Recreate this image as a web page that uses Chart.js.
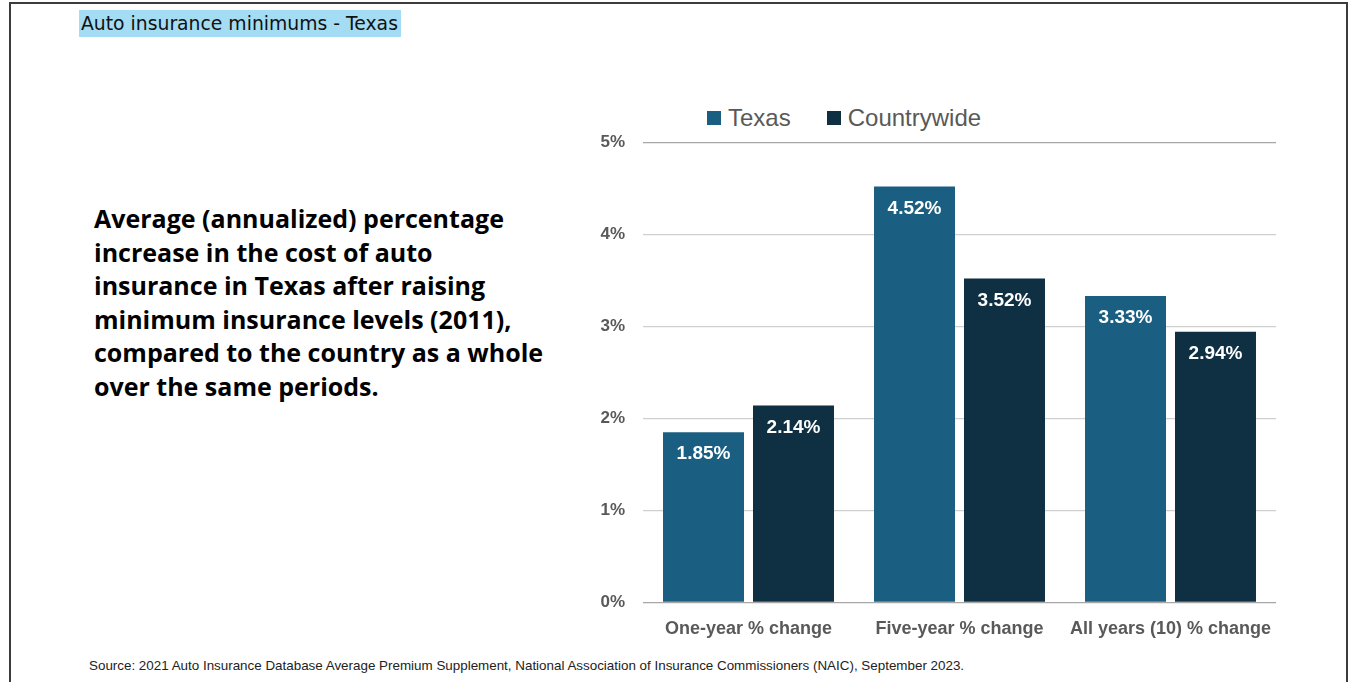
<!DOCTYPE html>
<html>
<head>
<meta charset="utf-8">
<script src="https://cdn.jsdelivr.net/npm/chart.js@4.4.1/dist/chart.umd.min.js"></script>
<style>
  html, body { margin: 0; padding: 0; background: #fff; }
  body { width: 1351px; height: 682px; position: relative; overflow: hidden; font-family: "Liberation Sans", Arial, sans-serif; }
  #frame { position: absolute; left: 9px; top: 2px; width: 1335px; height: 700px; border: 2px solid #3c3c3c; border-bottom: none; }
  #title { position: absolute; left: 79px; top: 10px; height: 27px; padding: 0 3px 0 2px; background: #a3dcf3; font-family: "DejaVu Sans", Verdana, sans-serif; font-size: 18.8px; line-height: 27px; color: #111; }
  #blurb { position: absolute; left: 94px; top: 202px; font-family: "Open Sans", sans-serif; font-weight: 700; font-size: 25px; line-height: 33.6px; color: #000; }
  #legend { position: absolute; top: 104px; left: 707px; font-size: 24px; color: #595959; display: flex; align-items: center; }
  #legend span.box { display: inline-block; width: 14px; height: 14px; margin-right: 7px; }
  #legend span.item { display: flex; align-items: center; margin-right: 36px; }
  #source { position: absolute; left: 89px; top: 658px; font-size: 13.4px; color: #222; }
  #wrap { position: absolute; left: 580px; top: 114px; width: 710px; height: 534px; }
</style>
</head>
<body>
<div id="frame"></div>
<div id="title">Auto insurance minimums - Texas</div>
<div id="blurb">Average (annualized) percentage<br>increase in the cost of auto<br>insurance in Texas after raising<br>minimum insurance levels (2011),<br>compared to the country as a whole<br>over the same periods.</div>
<div id="legend"></div>
<div id="wrap"><canvas id="myCanvas"></canvas></div>
<div id="source">Source: 2021 Auto Insurance Database Average Premium Supplement, National Association of Insurance Commissioners (NAIC), September 2023.</div>

<script>
// periods compared
const periods = ['One-year % change', 'Five-year % change', 'All years (10) % change'];
// annualized % increase
const texas = [1.85, 4.52, 3.33];
const countrywide = [2.14, 3.52, 2.94];
const yTicks = [0, 1, 2, 3, 4, 5];

const colors = { 'Texas': '#1a5f81', 'Countrywide': '#0f2f42' };

// legend sits above the plot, built by hand
const legendEl = document.getElementById('legend');
for (const name of ['Texas', 'Countrywide']) {
  const item = document.createElement('span');
  item.className = 'item';
  item.innerHTML = '<span class="box" style="background:' + colors[name] + '"></span>' + name;
  legendEl.appendChild(item);
}

// white % labels just inside the top of each bar
const barLabels = {
  id: 'barLabels',
  afterDatasetsDraw(chart) {
    const c = chart.ctx;
    c.save();
    c.fillStyle = '#fff';
    c.font = 'bold 19px "Liberation Sans", Arial, sans-serif';
    c.textAlign = 'center';
    c.textBaseline = 'middle';
    chart.data.datasets.forEach((ds, di) => {
      chart.getDatasetMeta(di).data.forEach((bar, i) => {
        c.fillText(ds.data[i].toFixed(2) + '%', bar.x, bar.y + 22);
      });
    });
    c.restore();
  }
};

const ctx = document.getElementById('myCanvas').getContext('2d');
const myChart = new Chart(ctx, {
  type: 'bar',
  data: {
    labels: periods,
    datasets: [
      { label: 'Texas', data: texas, backgroundColor: colors['Texas'] },
      { label: 'Countrywide', data: countrywide, backgroundColor: colors['Countrywide'] }
    ]
  },
  options: {
    responsive: true,
    maintainAspectRatio: false,
    animation: false,
    categoryPercentage: 0.853,
    barPercentage: 0.9,
    layout: { padding: { top: 12, right: 14, bottom: 0, left: 0 } },
    plugins: {
      legend: { display: false },
      tooltip: { enabled: false }
    },
    scales: {
      x: {
        grid: { display: false },
        border: { display: false },
        ticks: {
          color: '#595959',
          padding: 8,
          font: { family: '"Liberation Sans", Arial, sans-serif', size: 18, weight: 'bold' }
        }
      },
      y: {
        min: 0,
        max: 5,
        afterFit(scale) { scale.width = 63; },
        afterBuildTicks(scale) { scale.ticks = yTicks.map(v => ({ value: v })); },
        border: { display: false },
        grid: {
          drawTicks: false,
          color: (c) => (c.tick && (c.tick.value === 0 || c.tick.value === 5)) ? '#a6a6a6' : '#cfcfcf',
          lineWidth: 1.3
        },
        ticks: {
          color: '#595959',
          padding: 18,
          font: { family: '"Liberation Sans", Arial, sans-serif', size: 17, weight: 'bold' },
          callback: (v) => v + '%'
        }
      }
    }
  },
  plugins: [barLabels]
});
</script>
</body>
</html>
